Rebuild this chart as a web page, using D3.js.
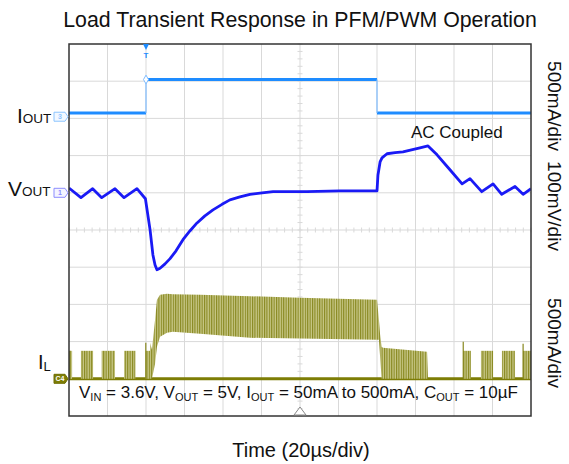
<!DOCTYPE html>
<html>
<head>
<meta charset="utf-8">
<script src="https://cdn.jsdelivr.net/npm/d3@7"></script>
<style>
  body { margin: 0; background: #fff; }
  svg { display: block; font-family: "Liberation Sans", Arial, sans-serif; }
</style>
</head>
<body>
<div id="chart"></div>
<script>
// --- data (time in µs, trigger at 0, 20 µs/div) ---
const timeTicks = [-40, -20, 0, 20, 40, 60, 80, 100, 120, 140, 160, 180, 200];

// I_OUT load step, mA
const ioutTime = [-40, 0, 120, 200];
const ioutLevel = [50, 500, 50];

// V_OUT, AC coupled, mV
const voutTime = [-40, -33.8, -27.7, -23.0, -16.1, -11.4, -4.7, -0.3, 2.1, 3.6, 4.7, 5.7, 7.3, 9.9, 12.5, 15.6, 19.2, 22.9, 26.5, 30.6, 34.8, 39.5, 43.6, 48.8, 54.0, 60.3, 66.0, 83.6, 100.8, 120.0, 120.5, 121.6, 122.6, 125.2, 129.4, 133.5, 142.3, 146.5, 151.2, 157.9, 164.2, 168.3, 174.4, 180.3, 184.8, 191.7, 195.9, 200];
const voutMv   = [13, -13, 11, -13, 11, -13, 11, -16, -99, -167, -194, -207, -203, -191, -177, -156, -126, -102, -81, -62, -46, -31, -19, -11, -4, 0, 3, 3, 5, 5, 48, 83, 94, 105, 108, 110, 121, 126, 102, 62, 24, 38, 3, 24, -4, 17, -4, 11];

// I_L PFM bursts, mA
const ilBurstStart = [-40, -33.8, -23.0, -11.4, -0.2, 164.7, 174.0, 184.9, 195.8];
const ilBurstEnd   = [-38.4, -27.5, -16.1, -5.5, 2.1, 168.8, 180.3, 191.7, 200];
const ilBurstPeak  = [376, 376, 376, 376, 376, 376, 376, 376, 376];
const ilSpikeTime  = [-39.6, -0.1, 164.8, 195.9];
const ilSpikeMa    = [376, 484, 497, 470];

// I_L PWM band envelope, mA
const ilBandTime = [2.1, 3.1, 4.7, 5.7, 7.3, 10.9, 14.0, 28.1, 54.0, 80.0, 120.0, 121.0, 121.6, 122.4, 123.1, 146.0, 146.5];
const ilBandHi   = [484, 390, 793, 1062, 1129, 1142, 1135, 1129, 1110, 1089, 1062, 793, 600, 430, 417, 363, 0];
const ilBandLo   = [0, 0, 200, 430, 564, 620, 632, 605, 551, 540, 524, 524, 300, 0, 0, 0, 0];

// channel settings: units per division, ground position in divisions from bottom
const ioutScale = 500, ioutOffset = 8.045;
const voutScale = 100, voutOffset = 6.0;
const ilScale = 500, ilOffset = 1.0;

const width = 569, height = 464;
const pLeft = 69, pRight = 531, pTop = 44, pBottom = 416;

const svg = d3.select("#chart").append("svg")
    .attr("width", width).attr("height", height);

const x = d3.scaleLinear().domain([-40, 200]).range([pLeft, pRight]);
const div = d3.scaleLinear().domain([0, 10]).range([pBottom, pTop]);
const yIout = v => div(ioutOffset + v / ioutScale);
const yVout = v => div(voutOffset + v / voutScale);
const yIl = v => div(ilOffset + v / ilScale);

const defs = svg.append("defs");
defs.append("clipPath").attr("id", "plot")
  .append("rect").attr("x", pLeft).attr("y", pTop).attr("width", pRight - pLeft).attr("height", pBottom - pTop);
const pat = defs.append("pattern").attr("id", "stripes")
    .attr("patternUnits", "userSpaceOnUse").attr("width", 2.4).attr("height", 10);
pat.append("rect").attr("width", 2.4).attr("height", 10).attr("fill", "#c8c888");
pat.append("rect").attr("width", 1.1).attr("height", 10).attr("fill", "#87871e");

// --- grid ---
const grid = svg.append("g").attr("stroke", "#d9d9d9").attr("stroke-width", 1);
timeTicks.slice(1, -1).forEach(t => {
  grid.append("line").attr("x1", x(t)).attr("x2", x(t)).attr("y1", pTop).attr("y2", pBottom);
});
d3.range(1, 10).forEach(d => {
  grid.append("line").attr("x1", pLeft).attr("x2", pRight).attr("y1", div(d)).attr("y2", div(d));
});
// minor ticks on centre lines
d3.range(0, 10.01, 0.2).forEach(d => {
  grid.append("line").attr("x1", x(80) - 2.5).attr("x2", x(80) + 2.5).attr("y1", div(d)).attr("y2", div(d));
});
d3.range(-40, 200.01, 4).forEach(t => {
  grid.append("line").attr("x1", x(t)).attr("x2", x(t)).attr("y1", div(5) - 2.5).attr("y2", div(5) + 2.5);
});

const plot = svg.append("g").attr("clip-path", "url(#plot)");

// --- I_L ---
plot.append("line")
    .attr("x1", x(-40)).attr("x2", x(200)).attr("y1", yIl(0)).attr("y2", yIl(0))
    .attr("stroke", "#7d7d05").attr("stroke-width", 3);
d3.range(ilBurstStart.length).forEach(i => {
  plot.append("rect")
      .attr("x", x(ilBurstStart[i])).attr("width", x(ilBurstEnd[i]) - x(ilBurstStart[i]))
      .attr("y", yIl(ilBurstPeak[i])).attr("height", yIl(0) - yIl(ilBurstPeak[i]))
      .attr("fill", "url(#stripes)");
});
ilSpikeTime.forEach((t, i) => {
  plot.append("line").attr("x1", x(t)).attr("x2", x(t))
      .attr("y1", yIl(0)).attr("y2", yIl(ilSpikeMa[i]))
      .attr("stroke", "#87871e").attr("stroke-width", 1.2);
});
const band = ilBandTime.map((t, i) => ({ t, hi: ilBandHi[i], lo: ilBandLo[i] }));
plot.append("path").datum(band)
    .attr("fill", "url(#stripes)")
    .attr("d", d3.area().x(d => x(d.t)).y0(d => yIl(d.lo)).y1(d => yIl(d.hi)));

// --- V_OUT ---
plot.append("path").datum(voutTime.map((t, i) => [t, voutMv[i]]))
    .attr("fill", "none").attr("stroke", "#1a1af5").attr("stroke-width", 2.8)
    .attr("stroke-linejoin", "round")
    .attr("d", d3.line().x(d => x(d[0])).y(d => yVout(d[1])));

// --- I_OUT ---
ioutLevel.forEach((v, i) => {
  plot.append("line").attr("x1", x(ioutTime[i])).attr("x2", x(ioutTime[i + 1]))
      .attr("y1", yIout(v)).attr("y2", yIout(v))
      .attr("stroke", "#1e8cff").attr("stroke-width", 3);
  if (i > 0) {
    plot.append("line").attr("x1", x(ioutTime[i])).attr("x2", x(ioutTime[i]))
        .attr("y1", yIout(ioutLevel[i - 1])).attr("y2", yIout(v))
        .attr("stroke", "#7fbcff").attr("stroke-width", 1.2);
  }
});
svg.append("path")
    .attr("d", d3.symbol(d3.symbolDiamond, 22)())
    .attr("transform", `translate(${x(0)},${yIout(500)})`)
    .attr("fill", "#fff").attr("stroke", "#7fbcff").attr("stroke-width", 1);

// --- frame ---
svg.append("rect").attr("x", pLeft).attr("y", pTop).attr("width", pRight - pLeft).attr("height", pBottom - pTop)
    .attr("fill", "none").attr("stroke", "#333").attr("stroke-width", 1.5);

// trigger markers
svg.append("path").attr("d", `M${x(0) - 3},${pTop}L${x(0) + 3},${pTop}L${x(0)},${pTop + 6}Z`).attr("fill", "#1e8cff");
svg.append("text").attr("x", x(0)).attr("y", pTop + 14).attr("text-anchor", "middle")
    .attr("font-size", 8).attr("font-weight", "bold").attr("fill", "#1e8cff").text("T");
svg.append("path").attr("d", `M${x(80) - 6},${pBottom - 1}L${x(80) + 6},${pBottom - 1}L${x(80)},${pBottom - 9}Z`)
    .attr("fill", "#fff").attr("stroke", "#888").attr("stroke-width", 1);

// channel ground markers
function marker(yPos, stroke, fill, label, textColor) {
  const g = svg.append("g").attr("transform", `translate(0,${yPos})`);
  g.append("path").attr("d", "M54,-4.5L65,-4.5L68,0L65,4.5L54,4.5Z")
      .attr("fill", fill).attr("stroke", stroke).attr("stroke-width", 1);
  g.append("text").attr("x", 60).attr("y", 2.6).attr("text-anchor", "middle")
      .attr("font-size", 7).attr("font-weight", "bold").attr("fill", textColor).text(label);
}
marker(yIout(0), "#8cc4ff", "#f2f8ff", "3", "#8cc4ff");
marker(yVout(0), "#8c8cff", "#f4f4ff", "1", "#8c8cff");
marker(yIl(0), "#6e6e00", "#7d7d05", "C4", "#fff");

// --- labels ---
svg.append("text").attr("x", 300).attr("y", 27).attr("text-anchor", "middle")
    .attr("font-size", 21.3).attr("fill", "#111").text("Load Transient Response in PFM/PWM Operation");
svg.append("text").attr("x", 301).attr("y", 457).attr("text-anchor", "middle")
    .attr("font-size", 20).attr("fill", "#111").text("Time (20µs/div)");

function sub(tx, main, subText, size, subSize, dy) {
  tx.append("tspan").attr("font-size", size).text(main);
  tx.append("tspan").attr("font-size", subSize).attr("dy", dy).text(subText);
}
sub(svg.append("text").attr("x", 17).attr("y", 123).attr("fill", "#111"), "I", "OUT", 21, 13.5, 0);
sub(svg.append("text").attr("x", 8).attr("y", 196).attr("fill", "#111"), "V", "OUT", 21, 13.5, 0);
sub(svg.append("text").attr("x", 38).attr("y", 369).attr("fill", "#111"), "I", "L", 20, 13, 2);

svg.append("text").attr("x", 411).attr("y", 138).attr("font-size", 17).attr("fill", "#111").text("AC Coupled");

const note = svg.append("text").attr("x", 79).attr("y", 398).attr("font-size", 17).attr("fill", "#111");
[["V", "IN", " = 3.6V, "], ["V", "OUT", " = 5V, "], ["I", "OUT", " = 50mA to 500mA, "], ["C", "OUT", " = 10µF"]].forEach(p => {
  note.append("tspan").text(p[0]);
  note.append("tspan").attr("font-size", 11).attr("dy", 3).text(p[1]);
  note.append("tspan").attr("dy", -3).text(p[2]);
});

const rightLabels = [["500mA/div", 106], ["100mV/div", 206], ["500mA/div", 343]];
rightLabels.forEach(([t, cy]) => {
  svg.append("text").attr("transform", `translate(548,${cy}) rotate(90)`)
      .attr("text-anchor", "middle").attr("font-size", 19).attr("fill", "#111").text(t);
});
</script>
</body>
</html>
